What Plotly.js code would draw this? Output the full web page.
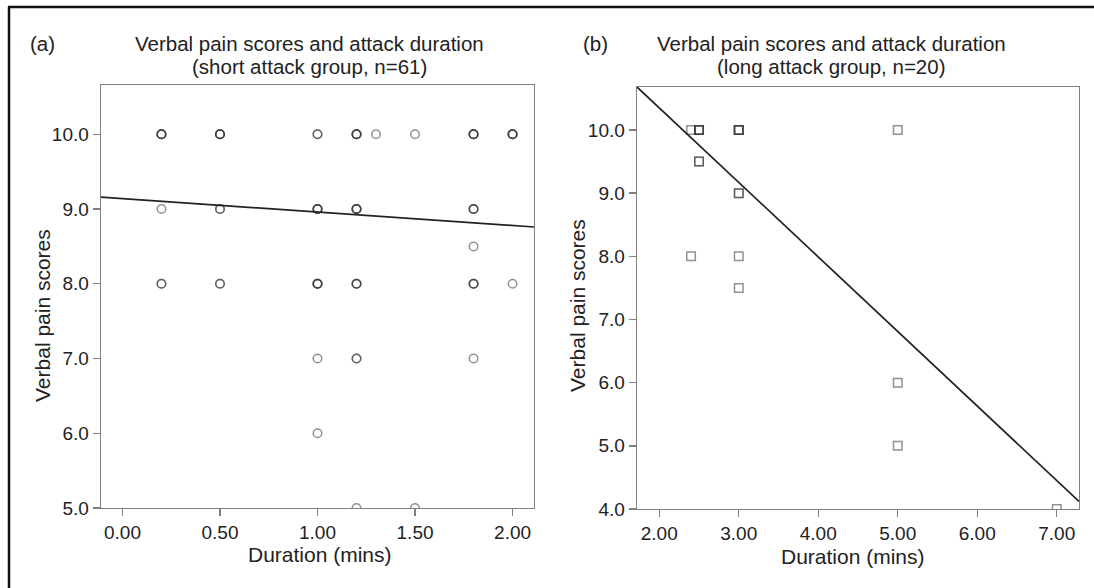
<!DOCTYPE html>
<html>
<head>
<meta charset="utf-8">
<script src="https://cdn.plot.ly/plotly-3.0.1.min.js"></script>
<style>html,body{margin:0;padding:0;background:#fff;}#chart{width:1094px;height:588px;}</style>
</head>
<body>
<div id="chart"></div>
<script>
// ---- Data ----
// Panel (a): short attack group, n=61
const shortDuration = [
  0.2,0.2,0.2,0.2, 0.5,0.5,0.5,0.5, 1.0,1.0, 1.2,1.2,1.2,1.2, 1.3, 1.5, 1.8,1.8,1.8,1.8, 2.0,2.0,2.0,2.0,
  0.2, 0.5,0.5, 1.0,1.0,1.0,1.0, 1.2,1.2,1.2,1.2, 1.8,1.8,1.8,
  1.8,
  0.2,0.2, 0.5,0.5, 1.0,1.0,1.0,1.0, 1.2,1.2,1.2, 1.8,1.8,1.8, 2.0,
  1.0, 1.2,1.2, 1.8,
  1.0,
  1.2, 1.5
];
const shortScore = [
  10,10,10,10, 10,10,10,10, 10,10, 10,10,10,10, 10, 10, 10,10,10,10, 10,10,10,10,
  9, 9,9, 9,9,9,9, 9,9,9,9, 9,9,9,
  8.5,
  8,8, 8,8, 8,8,8,8, 8,8,8, 8,8,8, 8,
  7, 7,7, 7,
  6,
  5, 5
];
// Panel (b): long attack group, n=20
const longDuration = [2.4, 2.5,2.5,2.5,2.5, 3,3,3,3, 5, 2.5,2.5, 3,3, 2.4, 3, 3, 5, 5, 7];
const longScore    = [10, 10,10,10,10, 10,10,10,10, 10, 9.5,9.5, 9,9, 8, 8, 7.5, 6, 5, 4];

// Fit lines (intercept, slope)
const shortFit = {intercept: 9.14, slope: -0.18};
const longFit  = {intercept: 12.71, slope: -1.18};

// Tick values
const shortXTicks = [0, 0.5, 1.0, 1.5, 2.0];
const shortYTicks = [5, 6, 7, 8, 9, 10];
const longXTicks  = [2, 3, 4, 5, 6, 7];
const longYTicks  = [4, 5, 6, 7, 8, 9, 10];

// Axis ranges
const shortXRange = [-0.11, 2.11];
const shortYRange = [5, 10.66];
const longXRange  = [1.72, 7.28];
const longYRange  = [4, 10.68];

// Text
const titleMain = 'Verbal pain scores and attack duration';
const titleSubA = '(short attack group, n=61)';
const titleSubB = '(long attack group, n=20)';
const xTitle = 'Duration (mins)';
const yTitle = 'Verbal pain scores';

// ---- Layout helpers ----
const W = 1094, H = 588;
const px = x => x / W;
const py = y => 1 - y / H;
const FONT = 'Liberation Sans, Arial, sans-serif';
const TXT = '#222';

function fitLine(fit, range) {
  return {x: range.slice(), y: range.map(v => fit.intercept + fit.slope * v)};
}

const markerCol = 'rgba(55,55,55,0.55)';
const f1 = fitLine(shortFit, shortXRange);
const f2 = fitLine(longFit, longXRange);

const traces = [
  {type:'scatter', mode:'markers', x: shortDuration, y: shortScore, xaxis:'x', yaxis:'y',
   marker:{symbol:'circle-open', size:8.5, color: markerCol, line:{width:1.5}}},
  {type:'scatter', mode:'lines', x: f1.x, y: f1.y, xaxis:'x', yaxis:'y',
   line:{color:'#222', width:1.7}},
  {type:'scatter', mode:'markers', x: longDuration, y: longScore, xaxis:'x2', yaxis:'y2',
   marker:{symbol:'square-open', size:8.5, color: markerCol, line:{width:1.5}}},
  {type:'scatter', mode:'lines', x: f2.x, y: f2.y, xaxis:'x2', yaxis:'y2',
   line:{color:'#222', width:1.7}}
];

const axBase = {
  showline:true, mirror:true, linecolor:'#808080', linewidth:1.4,
  ticks:'outside', ticklen:7, tickcolor:'#808080', tickwidth:1.4,
  showgrid:false, zeroline:false, tickmode:'array',
  tickfont:{family:FONT, size:19, color:TXT}, fixedrange:true
};

function ann(x, y, text, size, extra) {
  return Object.assign({xref:'paper', yref:'paper', x:px(x), y:py(y), xanchor:'center', yanchor:'middle',
    showarrow:false, text:text, font:{family:FONT, size:size, color:TXT}}, extra || {});
}

const layout = {
  width:W, height:H, margin:{l:0, r:0, t:0, b:0},
  paper_bgcolor:'#fff', plot_bgcolor:'#fff', showlegend:false,
  font:{family:FONT, color:TXT},
  xaxis: Object.assign({}, axBase, {domain:[px(101), px(534)], range:shortXRange,
    tickvals:shortXTicks, tickformat:'.2f', anchor:'y'}),
  yaxis: Object.assign({}, axBase, {domain:[py(508), py(85)], range:shortYRange,
    tickvals:shortYTicks, tickformat:'.1f', anchor:'x'}),
  xaxis2: Object.assign({}, axBase, {domain:[px(637), px(1079)], range:longXRange,
    tickvals:longXTicks, tickformat:'.2f', anchor:'y2'}),
  yaxis2: Object.assign({}, axBase, {domain:[py(509), py(87)], range:longYRange,
    tickvals:longYTicks, tickformat:'.1f', anchor:'x2'}),
  shapes: [
    {type:'line', xref:'paper', yref:'paper', x0:px(8), x1:1, y0:py(7), y1:py(7), line:{color:'#111', width:2.5}},
    {type:'line', xref:'paper', yref:'paper', x0:px(9), x1:px(9), y0:py(7), y1:0, line:{color:'#111', width:2.5}}
  ],
  annotations: [
    ann(28, 44, '(a)', 20.5, {xanchor:'left'}),
    ann(309, 44, titleMain, 20.5),
    ann(309, 67, titleSubA, 20.5),
    ann(581, 44, '(b)', 20.5, {xanchor:'left'}),
    ann(831, 44, titleMain, 20.5),
    ann(831, 67, titleSubB, 20.5),
    ann(320, 554, xTitle, 21),
    ann(853, 556, xTitle, 21),
    ann(42, 316, yTitle, 21, {textangle:-90}),
    ann(577, 306, yTitle, 21, {textangle:-90})
  ]
};

Plotly.newPlot('chart', traces, layout, {displayModeBar:false, staticPlot:true});
</script>
</body>
</html>
